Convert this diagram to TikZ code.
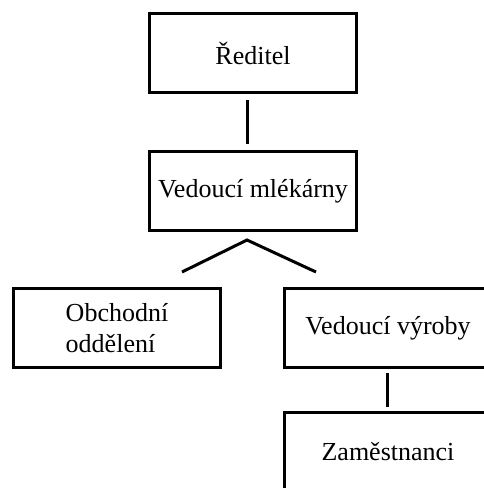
\documentclass[tikz,border=0pt]{standalone}
\usepackage{fontspec}
\setmainfont{Liberation Serif}
\begin{document}
\begin{tikzpicture}[
    x=0.5pt, y=-0.5pt,
    unit/.style={rectangle, draw, line width=1.5pt, minimum width=103.5pt, minimum height=39.5pt, font=\fontsize{13}{15.5}\selectfont},
    link/.style={line width=1.5pt}
]
\useasboundingbox (0,0) rectangle (483,488);

% Units
\node[unit] (director) at (253,53) {Ředitel};
\node[unit] (dairy) at (253,191) {Vedoucí mlékárny};
\node[unit, align=left] (sales) at (117,328) {Obchodní\\oddělení};
\node[unit] (production) at (388,328) {Vedoucí výroby};
\node[unit] (staff) at (388,452) {Zaměstnanci};

% Split below the dairy
\coordinate (split) at (247,240);
\coordinate (splitL) at (182,272);
\coordinate (splitR) at (316,272);

% Links
\draw[link, shorten <=3pt, shorten >=3pt] ([xshift=-3pt]director.south) -- ([xshift=-3pt]dairy.north);
\draw[link] (splitL) -- (split) -- (splitR);
\draw[link, shorten <=2pt, shorten >=2pt] ([xshift=-0.5pt]production.south) -- ([xshift=-0.5pt]staff.north);

\end{tikzpicture}
\end{document}
